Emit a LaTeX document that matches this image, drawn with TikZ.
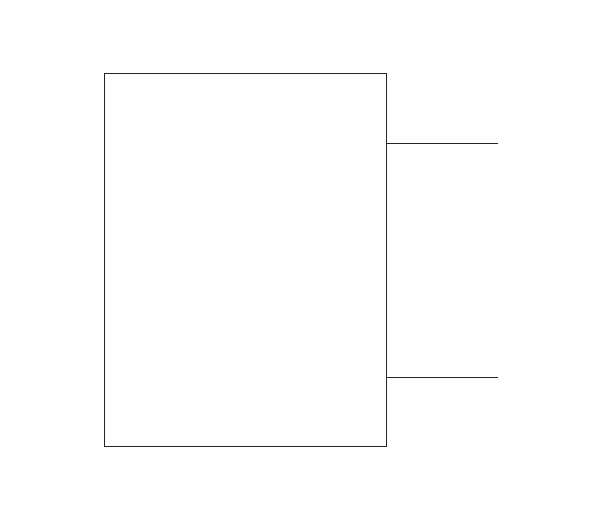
\documentclass[tikz,border=0pt]{standalone}
\begin{document}
\begin{tikzpicture}[x=1pt,y=-1pt,
  blockbox/.style={draw=black!85, line width=0.8pt, inner sep=0pt, minimum width=282pt, minimum height=373pt, rectangle},
  wire/.style={draw=black!85, line width=0.8pt}]
\useasboundingbox (0,0) rectangle (600,524);
\node[blockbox] (box) at (245,259.5) {};
\coordinate (p1) at (386,143);
\coordinate (p2) at (386,377);
\coordinate (o1) at (497.5,143);
\coordinate (o2) at (497.5,377);
\draw[wire] (p1) -- (o1);
\draw[wire] (p2) -- (o2);
\end{tikzpicture}
\end{document}
